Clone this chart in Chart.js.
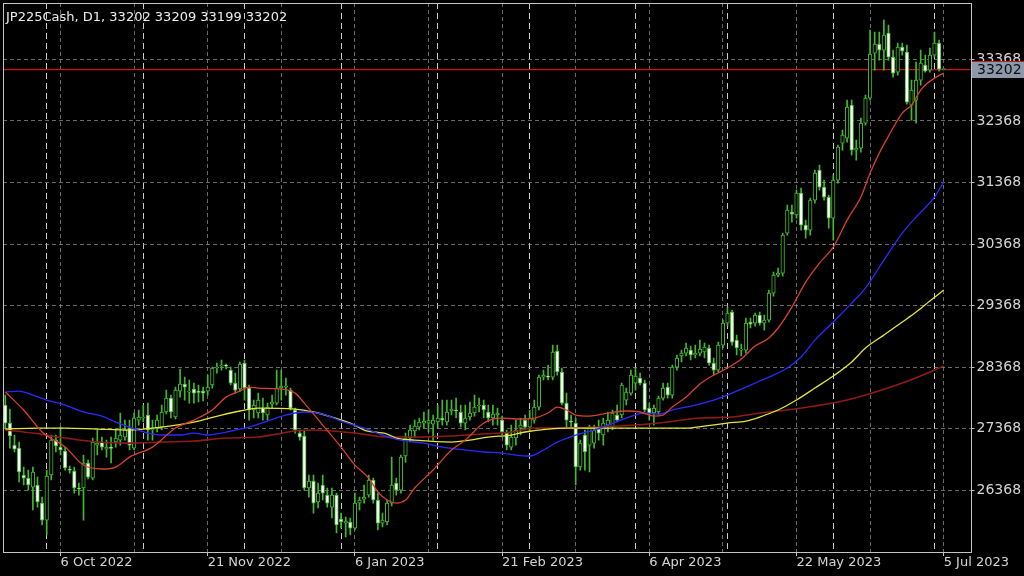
<!DOCTYPE html>
<html><head><meta charset="utf-8">
<style>html,body{margin:0;padding:0;background:#000;}canvas{display:block;}</style>
<script src="https://cdn.jsdelivr.net/npm/chart.js@4.4.1/dist/chart.umd.min.js"></script>
</head><body>
<canvas id="c" width="1024" height="576"></canvas>
<script>
const titleText = 'JP225Cash, D1, 33202 33209 33199 33202';
const lastPrice = 33202;

const opens = [
27754,27461,27104,27055,26617,26568,26422,26455,26162,25886,
26617,27185,27071,27007,26715,26682,26406,26406,26812,26568,
27104,27153,27039,27055,27153,27185,27234,27380,27055,27510,
27543,27592,27348,27380,27396,27641,27867,27559,27981,28095,
27965,28014,27965,27981,27981,28079,28355,28388,28388,28322,
28111,28014,28436,28030,27673,27624,27705,27592,27770,27786,
28030,28046,27997,27673,27299,27251,26406,26520,26179,26455,
26292,26097,26292,25903,25837,25854,25756,26162,26227,26292,
26536,26211,25837,25854,26162,26487,26373,26926,27218,27332,
27396,27461,27461,27445,27478,27543,27478,27657,27673,27641,
27461,27559,27624,27738,27754,27641,27543,27592,27510,27299,
27071,27218,27380,27510,27396,27510,27721,28208,28225,28208,
28631,28290,27786,27494,27461,26747,27267,27104,27136,27364,
27267,27429,27396,27592,27592,27835,27948,28111,28192,28111,
27705,27624,27641,27867,28046,27916,28371,28550,28598,28647,
28566,28598,28615,28680,28436,28322,28728,29085,29264,28809,
28647,28647,29102,29085,29215,29085,29134,29572,29865,29897,
30547,30888,30840,31196,30677,30596,31083,31570,31294,31132,
30791,31408,32008,32090,32626,31895,31927,32333,32740,33470,
33616,33519,33795,33405,33162,33567,33486,32626,32707,33032,
33275,33194,33438,33632,33202];

const highs = [
27916,27689,27267,27153,26747,26698,26747,26584,26259,26698,
27267,27267,27396,27071,26764,26747,26487,26942,26861,27218,
27348,27234,27185,27234,27348,27624,27510,27510,27624,27673,
27754,27786,27510,27592,27754,27997,27916,28046,28339,28208,
28160,28111,28079,28046,28241,28371,28436,28485,28420,28371,
28273,28453,28485,28079,27835,27948,27867,27786,27916,28322,
28322,28192,28030,27705,27348,27332,26617,26617,26487,26617,
26406,26406,26324,25999,25935,25919,26324,26259,26455,26617,
26568,26324,25999,26211,26909,26568,26942,27299,27429,27510,
27543,27641,27673,27592,27754,27835,27835,27835,27867,27754,
27754,27803,27916,27867,27835,27754,27754,27705,27575,27348,
27429,27510,27543,27592,27673,27835,28241,28322,28403,28728,
28728,28355,27948,27592,27543,27185,27348,27429,27429,27510,
27543,27641,27673,27754,28111,28030,28322,28355,28273,28160,
27786,27754,27900,28111,28111,28403,28566,28647,28760,28712,
28728,28809,28760,28728,28518,28777,29134,29345,29297,28890,
28744,29167,29167,29248,29264,29215,29621,29913,29979,30547,
31002,31002,31245,31278,30758,31115,31570,31651,31408,31164,
31489,31976,32220,32707,32707,32057,32415,32788,33844,33811,
33811,34006,33925,33519,33632,33632,33600,33032,33324,33519,
33438,33551,33811,33681,33209];

const lows = [
27380,27055,26991,26504,26455,26373,26049,26097,25805,25643,
26536,26991,26942,26698,26649,26324,26292,25886,26552,26536,
26942,27023,26909,26812,27071,27104,27185,27023,27023,27429,
27478,27185,27185,27316,27348,27608,27543,27527,27883,27835,
27786,27786,27803,27819,27916,28030,28273,28322,28339,28079,
27948,27981,27835,27510,27543,27543,27510,27510,27705,27754,
27835,27916,27673,27299,27185,26373,26259,25999,26081,26211,
26097,25919,25675,25756,25610,25643,25724,26049,26162,26259,
26162,25724,25773,25805,26114,26292,26324,26828,27153,27234,
27348,27380,27316,27185,27380,27429,27429,27592,27543,27396,
27348,27510,27575,27641,27543,27478,27429,27429,27267,27023,
27023,27104,27267,27348,27316,27461,27673,28160,28160,28160,
28241,27754,27396,27380,26455,26698,26698,26666,27055,27185,
27104,27316,27348,27478,27543,27754,27916,27997,28079,27641,
27510,27429,27592,27835,27867,27867,28322,28453,28550,28485,
28518,28550,28518,28403,28241,28290,28680,29037,28728,28566,
28550,28598,29005,29037,29053,28972,29102,29524,29833,29849,
30515,30726,30791,30596,30466,30515,31034,31245,31083,30628,
30433,31359,31895,32025,31814,31733,31862,32301,32707,33194,
33357,33194,33357,33081,33113,33438,32642,32382,32333,32951,
33162,33162,33405,33178,33199];

const closes = [
27461,27251,27039,26666,26568,26455,26666,26179,25886,26601,
27185,27088,27023,26731,26698,26406,26390,26812,26584,27153,
27136,27071,27071,27050,27218,27267,27348,27104,27543,27559,
27559,27348,27380,27510,27641,27867,27641,27997,28095,28046,
27981,27948,27960,27948,28046,28355,28371,28403,28385,28111,
27997,28420,28030,27673,27754,27835,27624,27721,27803,28030,
28063,28063,27705,27348,27234,26406,26520,26162,26324,26324,
26162,26292,25805,25854,25870,25756,26162,26211,26259,26536,
26211,25837,25886,26162,26455,26373,26909,27218,27348,27413,
27478,27494,27500,27510,27543,27510,27641,27689,27657,27461,
27543,27624,27721,27754,27673,27543,27608,27624,27316,27104,
27234,27348,27429,27396,27543,27721,28208,28241,28208,28615,
28290,27786,27510,27478,26747,27136,26991,27380,27348,27299,
27461,27510,27624,27510,28079,27965,28241,28225,28111,27673,
27624,27705,27867,28030,27916,28371,28518,28598,28680,28566,
28598,28663,28696,28436,28322,28728,29085,29248,28777,28680,
28663,29085,29069,29215,29085,29134,29572,29865,29897,30515,
30921,30856,31196,30677,30596,31083,31521,31294,31132,30791,
31408,31944,32139,32593,31895,31927,32333,32740,33454,33616,
33519,33763,33405,33146,33567,33503,32674,32869,33032,33308,
33178,33438,33632,33211,33202];

// moving averages: [bar index, value]
const maRed = [[0,27965],[4,27673],[8,27316],[13,27071],[17,26779],[21,26715],[24,26747],[27,26909],[32,27071],[37,27380],[41,27510],[45,27673],[48,27883],[51,27981],[53,28046],[55,28030],[60,28014],[63,27948],[65,27786],[69,27429],[73,27071],[76,26779],[79,26568],[81,26341],[83,26211],[85,26162],[87,26211],[89,26406],[93,26698],[97,27023],[100,27185],[104,27461],[106,27527],[108,27543],[111,27527],[115,27543],[118,27624],[120,27721],[122,27673],[124,27592],[127,27575],[131,27624],[135,27657],[138,27641],[141,27575],[143,27592],[145,27721],[148,27883],[151,28095],[154,28241],[157,28355],[160,28501],[163,28712],[166,28842],[168,29005],[171,29345],[174,29751],[177,30060],[180,30320],[183,30758],[186,31132],[188,31521],[190,31846],[192,32122],[195,32496],[197,32626],[199,32869],[200,32951],[202,33064],[204,33146]];
const maBlue = [[0,27965],[3,27981],[6,27916],[9,27835],[13,27754],[17,27641],[21,27575],[24,27478],[27,27396],[31,27299],[34,27267],[38,27267],[41,27299],[44,27267],[47,27299],[50,27348],[53,27396],[57,27494],[61,27592],[65,27641],[69,27608],[73,27494],[78,27380],[82,27267],[86,27185],[91,27136],[95,27071],[100,27023],[104,26991],[108,26974],[111,26942],[114,26926],[117,27023],[120,27153],[124,27267],[128,27348],[131,27429],[135,27543],[139,27624],[142,27608],[145,27673],[150,27754],[154,27835],[158,27948],[161,28046],[164,28144],[166,28208],[170,28355],[173,28534],[176,28809],[180,29102],[184,29410],[187,29654],[191,30109],[195,30547],[198,30807],[202,31132],[204,31375]];
const maYellow = [[0,27364],[7,27380],[13,27380],[20,27364],[27,27348],[34,27396],[41,27478],[47,27592],[51,27657],[55,27705],[63,27689],[67,27641],[71,27559],[75,27461],[78,27348],[83,27283],[85,27218],[89,27185],[97,27153],[101,27185],[105,27234],[110,27267],[113,27316],[118,27364],[122,27380],[130,27380],[137,27380],[144,27380],[148,27380],[152,27413],[157,27461],[161,27494],[164,27559],[168,27673],[172,27835],[176,28030],[180,28225],[184,28453],[187,28680],[191,28890],[195,29102],[198,29264],[201,29443],[204,29621]];
const maMaroon = [[0,27348],[6,27299],[13,27218],[20,27153],[27,27136],[34,27153],[41,27169],[48,27218],[55,27234],[59,27283],[63,27332],[67,27348],[71,27332],[76,27299],[83,27234],[89,27234],[97,27251],[104,27283],[110,27316],[115,27380],[122,27380],[129,27396],[137,27429],[144,27478],[151,27543],[158,27559],[164,27624],[170,27673],[176,27738],[183,27835],[187,27916],[195,28111],[202,28322],[204,28388]];

const yTicks = [26368, 27368, 28368, 29368, 30368, 31368, 32368, 33368];
const xLabelIdx = [12, 44, 76, 108, 140, 172, 204];
const xLabels = ['6 Oct 2022', '21 Nov 2022', '6 Jan 2023', '21 Feb 2023', '6 Apr 2023', '22 May 2023', '5 Jul 2023'];
const xGridMid = [28, 60, 92, 124, 156, 188];
const monthSepIdx = [9, 30, 52, 73, 94, 114, 137, 157, 180, 202];

const GREEN = '#45b830';
const idx = opens.map((_, i) => i);
const wickData = idx.map(i => ({x: i, y: [lows[i], highs[i]]}));
const bodyData = idx.map(i => ({x: i, y: [opens[i], closes[i]]}));
const bodyFill = idx.map(i => closes[i] < opens[i] ? '#ffffff' : '#000000');
const toPts = arr => arr.map(p => ({x: p[0], y: p[1]}));
const sepSet = new Set(monthSepIdx);
const labelMap = new Map(xLabelIdx.map((v, k) => [v, xLabels[k]]));
const xTickVals = [...new Set([...xLabelIdx, ...xGridMid, ...monthSepIdx])].sort((a, b) => a - b);
const X_MIN = -0.5, X_MAX = 209.83;

const framePlugin = {
  id: 'frame',
  afterDraw(chart) {
    const {ctx, chartArea: a} = chart;
    const y = chart.scales.y;
    ctx.save();
    ctx.strokeStyle = '#c4c4c4';
    ctx.lineWidth = 1;
    const l = Math.round(a.left), t = Math.round(a.top), r = Math.round(a.right), b = Math.round(a.bottom);
    ctx.strokeRect(l + 0.5, t + 0.5, r - l, b - t);
    ctx.fillStyle = '#ececec';
    ctx.font = '13px "DejaVu Sans"';
    ctx.textBaseline = 'alphabetic';
    ctx.textAlign = 'left';
    ctx.fillText(titleText, l + 3, t + 18);
    const py = y.getPixelForValue(lastPrice);
    const bx = r + 1;
    const top = Math.round(py - 8.5);
    ctx.fillStyle = '#8c99aa';
    ctx.fillRect(bx, top, chart.width - bx, 17);
    ctx.fillStyle = '#cc1414';
    ctx.fillRect(bx, top, chart.width - bx, 1);
    ctx.fillStyle = '#0c0c0c';
    ctx.font = '14px "DejaVu Sans"';
    ctx.textBaseline = 'middle';
    ctx.fillText(String(lastPrice), bx + 5, top + 9);
    ctx.restore();
  }
};

new Chart(document.getElementById('c'), {
  type: 'bar',
  data: {
    datasets: [
      {type: 'line', data: toPts(maRed), borderColor: '#d8402c', borderWidth: 1.3, pointRadius: 0, cubicInterpolationMode: 'monotone', order: 0},
      {type: 'line', data: toPts(maBlue), borderColor: '#2a2aff', borderWidth: 1.3, pointRadius: 0, cubicInterpolationMode: 'monotone', order: 0},
      {type: 'line', data: toPts(maYellow), borderColor: '#e4e43c', borderWidth: 1.3, pointRadius: 0, cubicInterpolationMode: 'monotone', order: 0},
      {type: 'line', data: toPts(maMaroon), borderColor: '#8e1c14', borderWidth: 1.6, pointRadius: 0, cubicInterpolationMode: 'monotone', order: 0},
      {type: 'bar', data: bodyData, backgroundColor: bodyFill, borderColor: GREEN, borderWidth: 1, borderSkipped: false, barThickness: 3.6, grouped: false, minBarLength: 1, order: 1},
      {type: 'bar', data: wickData, backgroundColor: GREEN, borderWidth: 0, barThickness: 1, grouped: false, minBarLength: 1, order: 2},
      {type: 'line', data: [{x: X_MIN, y: lastPrice}, {x: X_MAX, y: lastPrice}], borderColor: '#d01010', borderWidth: 1.2, pointRadius: 0, order: 5}
    ]
  },
  options: {
    responsive: false,
    animation: false,
    devicePixelRatio: 1,
    layout: {padding: {left: 3, top: 3, right: 0, bottom: 0}},
    plugins: {legend: {display: false}, tooltip: {enabled: false}, title: {display: false}},
    scales: {
      x: {
        type: 'linear', min: X_MIN, max: X_MAX, offset: false,
        afterBuildTicks: s => { s.ticks = xTickVals.map(v => ({value: v})); },
        afterFit: s => { s.height = 24; s.paddingLeft = 0; s.paddingRight = 0; },
        grid: {
          offset: false, drawTicks: true, tickLength: 4, lineWidth: 1,
          color: c => sepSet.has(c.tick && c.tick.value) ? 'rgba(225,225,225,0.9)' : 'rgba(150,150,150,0.7)',
          tickColor: c => labelMap.has(c.tick && c.tick.value) ? '#c4c4c4' : 'rgba(0,0,0,0)'
        },
        border: {display: false, dash: c => sepSet.has(c.tick && c.tick.value) ? [6, 4] : [4, 3]},
        ticks: {
          autoSkip: false, maxRotation: 0, minRotation: 0, align: 'start', padding: -1,
          color: '#d4d4d4', font: {family: 'DejaVu Sans', size: 13},
          callback: v => labelMap.has(v) ? labelMap.get(v) : ''
        }
      },
      y: {
        position: 'right', min: 25367, max: 34284, beginAtZero: false,
        afterBuildTicks: s => { s.ticks = yTicks.map(v => ({value: v})); },
        afterFit: s => { s.width = 53.5; s.paddingTop = 0; s.paddingBottom = 0; },
        grid: {color: 'rgba(150,150,150,0.7)', tickLength: 4, tickColor: '#c4c4c4', drawTicks: true},
        border: {display: false, dash: [4, 3]},
        ticks: {color: '#d4d4d4', padding: 2, font: {family: 'DejaVu Sans', size: 14}, callback: v => String(v)}
      }
    }
  },
  plugins: [framePlugin]
});
</script>
</body></html>
